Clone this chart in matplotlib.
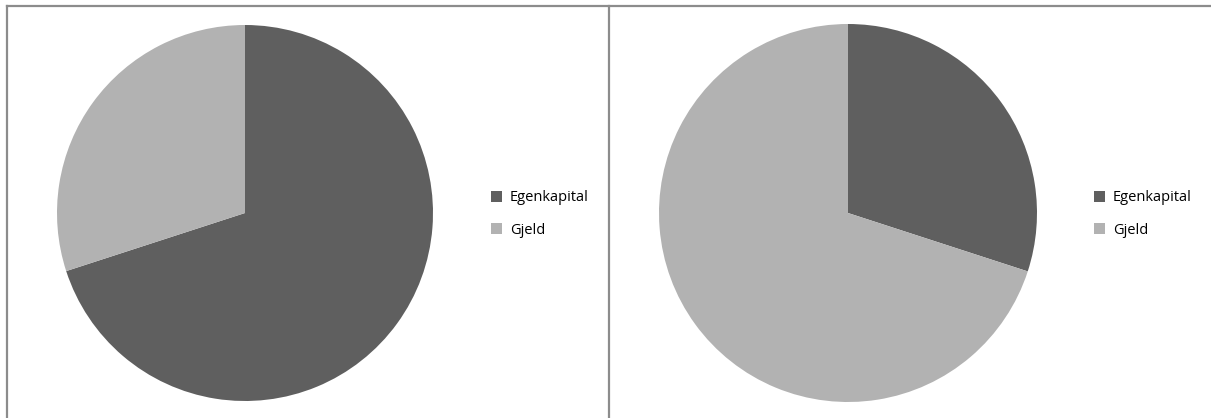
import matplotlib.pyplot as plt
from matplotlib.lines import Line2D

# Egenkapital vs Gjeld, two scenarios
labels = ["Egenkapital", "Gjeld"]
left_shares = [70, 30]
right_shares = [30, 70]
colors = ["#5f5f5f", "#b2b2b2"]

W, H = 1211, 418
fig = plt.figure(figsize=(W / 100, H / 100), dpi=100)
plt.rcParams["font.family"] = ["Open Sans", "DejaVu Sans"]


def px_axes(cx, cy, r):
    return fig.add_axes([(cx - r) / W, (H - cy - r) / H, 2 * r / W, 2 * r / H])


def draw_panel(cx, cy, r, shares, legend_x):
    ax = px_axes(cx, cy, r)
    wedges, _ = ax.pie(shares, colors=colors, startangle=90, counterclock=False,
                       radius=1, wedgeprops=dict(linewidth=0))
    ax.set_xlim(-1, 1)
    ax.set_ylim(-1, 1)
    ax.set_aspect("equal")
    fig.legend(wedges, labels, loc="center left",
               bbox_to_anchor=(legend_x / W, 1 - 214 / H),
               frameon=False, fontsize=10.5, handlelength=0.75, handleheight=0.75,
               handletextpad=0.55, labelspacing=1.2, borderaxespad=0,
               borderpad=0)


draw_panel(245, 213, 188, left_shares, 491)
draw_panel(848, 213, 189, right_shares, 1094)

# panel borders
border = dict(color="#8c8c8c", linewidth=1.6, transform=fig.transFigure)
fig.add_artist(Line2D([7 / W, 1], [1 - 6 / H, 1 - 6 / H], **border))
fig.add_artist(Line2D([7 / W, 7 / W], [0, 1 - 6 / H], **border))
fig.add_artist(Line2D([608.5 / W, 608.5 / W], [0, 1 - 6 / H], **border))

fig.savefig("out.png", dpi=100)
